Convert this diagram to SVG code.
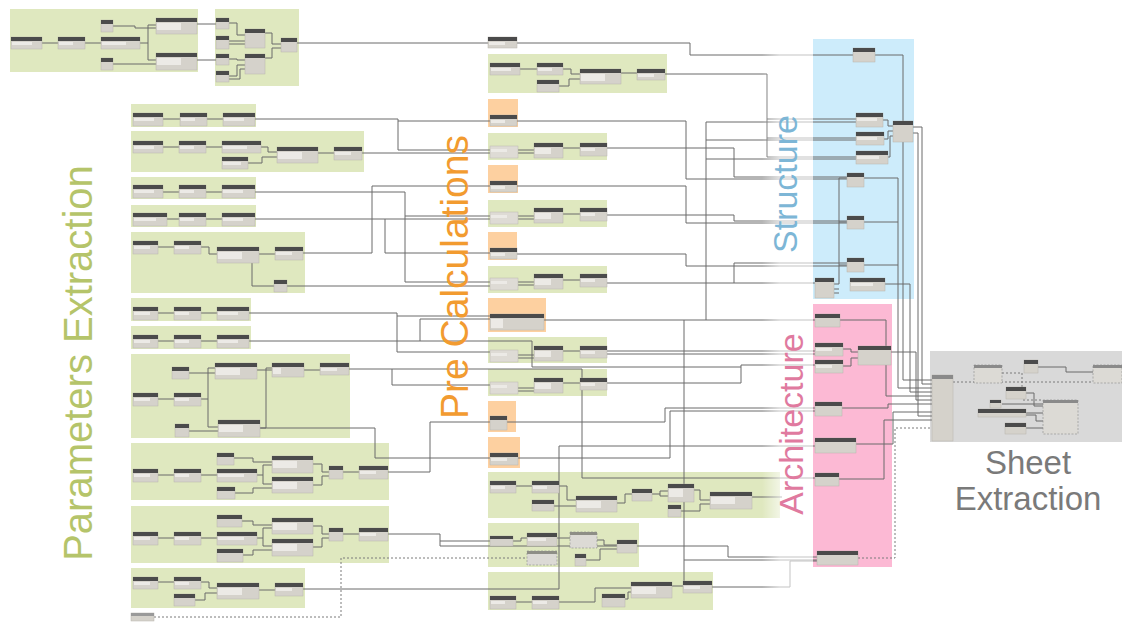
<svg xmlns="http://www.w3.org/2000/svg" width="1122" height="622" viewBox="0 0 1122 622">
<style>
.gr{fill:#dfe8bf}
.or{fill:#fdd0a0}
.b{fill:#d5d2cb;stroke:#b9b5ad;stroke-width:.5}
.bl{fill:#dedbd5;stroke:#bdb9b1;stroke-width:.5}
.h{fill:#4b4b4b}
.f{fill:#eceae6}
.dn{fill:#dcdad5;stroke:#8a8a8a;stroke-width:.6;stroke-dasharray:2 1.5}
.c{fill:none;stroke:#6b6b6b;stroke-width:1}
.cd{fill:none;stroke:#7a7a7a;stroke-width:1;stroke-dasharray:2 2}
.lbl{font-family:"Liberation Sans",Arial,sans-serif;text-anchor:middle}
</style>
<defs>
<linearGradient id="fade" x1="0" x2="1" y1="0" y2="0">
<stop offset="0" stop-color="#fff" stop-opacity="0"/>
<stop offset="0.35" stop-color="#fff" stop-opacity="0.6"/>
<stop offset="1" stop-color="#fff" stop-opacity="0.6"/>
</linearGradient>
</defs>
<rect width="1122" height="622" fill="#fff"/>

<g id="regions">
<rect id="structure-bg" x="813" y="39" width="101" height="260" fill="#cdecfb"/>
<rect id="architecture-bg" x="813" y="304" width="79" height="263" fill="#fcb9d4"/>
<rect id="sheet-bg" x="930" y="351" width="192" height="91" fill="#d9d9d9"/>
<rect class="gr" x="10" y="9" width="188" height="63"/>
<rect class="gr" x="215" y="9" width="84" height="77"/>
<rect class="gr" x="131" y="104" width="125" height="23"/>
<rect class="gr" x="131" y="131" width="233" height="41"/>
<rect class="gr" x="131" y="177" width="125" height="22"/>
<rect class="gr" x="131" y="205" width="125" height="22"/>
<rect class="gr" x="131" y="232" width="174" height="61"/>
<rect class="gr" x="131" y="298" width="120" height="23"/>
<rect class="gr" x="131" y="326" width="120" height="23"/>
<rect class="gr" x="131" y="354" width="219" height="84"/>
<rect class="gr" x="131" y="443" width="258" height="57"/>
<rect class="gr" x="131" y="506" width="258" height="57"/>
<rect class="gr" x="131" y="568" width="174" height="40"/>
<rect class="gr" x="488" y="54" width="179" height="39"/>
<rect class="or" x="488" y="99" width="30" height="28"/>
<rect class="gr" x="488" y="133" width="119" height="27"/>
<rect class="or" x="488" y="165" width="30" height="28"/>
<rect class="gr" x="488" y="200" width="119" height="27"/>
<rect class="or" x="488" y="232" width="29" height="28"/>
<rect class="gr" x="488" y="266" width="119" height="27"/>
<rect class="or" x="488" y="298" width="58" height="34"/>
<rect class="gr" x="488" y="337" width="119" height="26"/>
<rect class="gr" x="488" y="369" width="119" height="27"/>
<rect class="or" x="488" y="401" width="28" height="31"/>
<rect class="or" x="488" y="437" width="32" height="31"/>
<rect class="gr" x="488" y="472" width="292" height="46"/>
<rect class="gr" x="488" y="523" width="151" height="44"/>
<rect class="gr" x="488" y="572" width="225" height="38"/>
</g>

<g id="connectors">
<path class="c" d="M42 43H58M85 43H101M113 26H135V28H156M140 43H148V25H156M148 43V60H156M113 64H156M197 24H216M197 60H216"/>
<path class="c" d="M229 23H237V35H245M229 41H245M229 44H245M229 59H237V60H245M229 76H237V65H245M229 79H240V69H245M265 33H272V44H281M265 58H272V48H281M297 43H488"/>
<path class="c" d="M163 119H180M207 119H223M163 147H179M206 147H222M261 147H268V152H277M248 163H262V157H277M318 153H334"/>
<path class="c" d="M163 192H179M206 192H222M167 219H179M206 219H222M158 247H174M201 247H209V254H217M252 262V286H274M259 254H275"/>
<path class="c" d="M158 313H174M201 313H217M158 341H174M201 341H217M189 373H215M158 399H174M201 399H208V368H215M208 399V427H218M189 431H218M257 370H272M304 370H320M260 428H266V368H272"/>
<path class="c" d="M158 475H174M201 475H217M234 458H253V462H272M257 475H263V465H272M263 475V484H272M235 493H253V488H272M313 464H322V472H329M313 485H322V476H329M343 472H359"/>
<path class="c" d="M158 538H174M201 538H217M242 521H253V525H272M257 538H263V528H272M263 538V546H272M243 555H253V550H272M313 526H322V534H329M313 547H322V538H329M343 534H359"/>
<path class="c" d="M158 582H174M201 582H209V588H217M195 600H205V593H217M259 590H275"/>
<path class="c" d="M255 119H398V121H490M398 121V150H490M362 153H490M303 253H372V186H490M255 192H405V216H490M405 216V282H490M255 219H490M385 219V253H490M287 286H490"/>
<path class="c" d="M249 313H397V316H490M397 316V352H490M249 341H420V319H490M420 341H532V367H741M348 369H582V478H815M392 369V385H490M260 428H375V458H490M387 472H430V422H490M387 534H440V541H490M440 541V546H728V557H817M303 589H559V446H815"/>
<path class="cd" d="M154 617H341V558H527"/>
<path class="c" d="M520 69H537M563 69H571V74H580M559 86H569V79H580M621 73H637"/>
<path class="c" d="M518 150H534M518 153H534M563 148H580M518 216H534M518 219H534M563 214H580M518 282H534M518 285H534M563 280H580M518 355H534M518 358H534M563 351H580M518 388H534M518 391H534M563 383H580"/>
<path class="c" d="M516 486H532M559 486H567V500H576M554 506H576M617 503H625V494H632M652 494H660V491H668M660 494V496H668M694 490H700V500H710M681 511H700V504H710M752 497H782"/>
<path class="c" d="M513 541H521V538H527M557 538H570M597 540H604V545H617M586 560H600V549H617M516 602H532M559 602H595V588H631M625 599H628V592H631M672 586H683M712 587H790V561H817"/>
<path class="c" d="M517 43H690V55H853M665 74H767V157H856M767 119H856M767 138H856M517 121H686V179H847M607 148H734V177H847M517 186H686V223H847M607 215H734V221H847M517 254H686V266H847M607 283H734V263H847M734 283H815"/>
<path class="c" d="M544 320H815M706 320V122H856M706 140H856M706 159H856M684 320V581M684 560H817M607 351H815M607 354H815M607 383H741V365H815M507 422H665V408H815M518 458H670V411H815"/>
<path class="c" d="M883 120H888V126H893M884 139H888V131H893M888 157H890V136H893M834 284H839V178H847M839 222H847M839 265H847M834 289H839M834 293H839"/>
<path class="c" d="M875 55H903V380H932M913 127H922V384H932M864 178H898V388H932M864 222H898M864 265H898M885 284H910V392H932M913 133H918V416H932"/>
<path class="c" d="M843 349H851V352H858M843 366H851V358H858M840 320H886V396H932M891 352H916V400H932M842 408H888V404H932M856 444H893V412H932M839 479H884V420H932"/>
<path class="cd" d="M858 558H895V428H932M953 382H1093M1002 373H1022V400H1043"/>
<path class="c" d="M1038 367H1066V372H1093M1026 393H1034V406H1043M1002 404H1043M1026 413H1043M1026 415H1036V421H1043M1026 428H1043"/>
</g>

<g id="nodes">
<g id="tl1a" transform="translate(11,37)"><rect class="b" width="31" height="12"/><rect class="h" width="31" height="4"/><rect class="f" x="1" y="5" width="20" height="3"/></g>
<g id="tl1b" transform="translate(58,37)"><rect class="b" width="27" height="12"/><rect class="h" width="27" height="4"/><rect class="f" x="1" y="5" width="14" height="3"/></g>
<g id="tl1c" transform="translate(101,37)"><rect class="b" width="39" height="12"/><rect class="h" width="39" height="4"/><rect class="f" x="1" y="5" width="24" height="3"/></g>
<g id="tl1d" transform="translate(101,20)"><rect class="b" width="12" height="12"/><rect class="h" width="12" height="4"/></g>
<g id="tl1e" transform="translate(101,58)"><rect class="b" width="12" height="12"/><rect class="h" width="12" height="4"/></g>
<g id="tl1f" transform="translate(156,18)"><rect class="b" width="41" height="16"/><rect class="h" width="41" height="4"/><rect class="f" x="1" y="5" width="24" height="7"/></g>
<g id="tl1g" transform="translate(156,53)"><rect class="b" width="41" height="17"/><rect class="h" width="41" height="4"/><rect class="f" x="1" y="5" width="24" height="7"/></g>
<g id="tl2a" transform="translate(216,18)"><rect class="b" width="13" height="11"/><rect class="h" width="13" height="4"/></g>
<g id="tl2b" transform="translate(216,36)"><rect class="b" width="13" height="13"/><rect class="h" width="13" height="4"/></g>
<g id="tl2c" transform="translate(216,54)"><rect class="b" width="13" height="11"/><rect class="h" width="13" height="4"/></g>
<g id="tl2d" transform="translate(216,71)"><rect class="b" width="13" height="11"/><rect class="h" width="13" height="4"/></g>
<g id="tl2e" transform="translate(245,29)"><rect class="b" width="20" height="19"/><rect class="h" width="20" height="4"/></g>
<g id="tl2f" transform="translate(245,54)"><rect class="b" width="20" height="20"/><rect class="h" width="20" height="4"/></g>
<g id="tl2g" transform="translate(281,38)"><rect class="b" width="16" height="14"/><rect class="h" width="16" height="4"/></g>

<g id="p1a" transform="translate(133,113)"><rect class="b" width="30" height="13"/><rect class="h" width="30" height="4"/><rect class="f" x="1" y="5" width="20" height="3"/></g>
<g id="p1b" transform="translate(180,113)"><rect class="b" width="27" height="13"/><rect class="h" width="27" height="4"/><rect class="f" x="1" y="5" width="14" height="3"/></g>
<g id="p1c" transform="translate(223,113)"><rect class="b" width="32" height="13"/><rect class="h" width="32" height="4"/><rect class="f" x="1" y="5" width="20" height="3"/></g>
<g id="p2a" transform="translate(133,141)"><rect class="b" width="30" height="12"/><rect class="h" width="30" height="4"/><rect class="f" x="1" y="5" width="20" height="3"/></g>
<g id="p2b" transform="translate(179,141)"><rect class="b" width="27" height="12"/><rect class="h" width="27" height="4"/><rect class="f" x="1" y="5" width="14" height="3"/></g>
<g id="p2c" transform="translate(222,141)"><rect class="b" width="39" height="12"/><rect class="h" width="39" height="4"/><rect class="f" x="1" y="5" width="24" height="3"/></g>
<g id="p2d" transform="translate(222,157)"><rect class="b" width="26" height="12"/><rect class="h" width="26" height="4"/><rect class="f" x="1" y="5" width="18" height="3"/></g>
<g id="p2e" transform="translate(277,147)"><rect class="b" width="41" height="16"/><rect class="h" width="41" height="4"/><rect class="f" x="1" y="5" width="24" height="7"/></g>
<g id="p2f" transform="translate(334,147)"><rect class="b" width="28" height="13"/><rect class="h" width="28" height="4"/><rect class="f" x="1" y="5" width="16" height="3"/></g>
<g id="p3a" transform="translate(133,185)"><rect class="b" width="30" height="13"/><rect class="h" width="30" height="4"/><rect class="f" x="1" y="5" width="20" height="3"/></g>
<g id="p3b" transform="translate(179,185)"><rect class="b" width="27" height="13"/><rect class="h" width="27" height="4"/><rect class="f" x="1" y="5" width="14" height="3"/></g>
<g id="p3c" transform="translate(222,185)"><rect class="b" width="33" height="13"/><rect class="h" width="33" height="4"/><rect class="f" x="1" y="5" width="20" height="3"/></g>
<g id="p4a" transform="translate(133,213)"><rect class="b" width="34" height="13"/><rect class="h" width="34" height="4"/><rect class="f" x="1" y="5" width="22" height="3"/></g>
<g id="p4b" transform="translate(179,213)"><rect class="b" width="27" height="13"/><rect class="h" width="27" height="4"/><rect class="f" x="1" y="5" width="14" height="3"/></g>
<g id="p4c" transform="translate(222,213)"><rect class="b" width="33" height="13"/><rect class="h" width="33" height="4"/><rect class="f" x="1" y="5" width="20" height="3"/></g>
<g id="p5a" transform="translate(133,241)"><rect class="b" width="25" height="13"/><rect class="h" width="25" height="4"/><rect class="f" x="1" y="5" width="16" height="3"/></g>
<g id="p5b" transform="translate(174,241)"><rect class="b" width="27" height="13"/><rect class="h" width="27" height="4"/><rect class="f" x="1" y="5" width="14" height="3"/></g>
<g id="p5c" transform="translate(217,247)"><rect class="b" width="42" height="16"/><rect class="h" width="42" height="4"/><rect class="f" x="1" y="5" width="24" height="7"/></g>
<g id="p5d" transform="translate(275,247)"><rect class="b" width="28" height="13"/><rect class="h" width="28" height="4"/><rect class="f" x="1" y="5" width="16" height="3"/></g>
<g id="p5e" transform="translate(274,280)"><rect class="b" width="13" height="12"/><rect class="h" width="13" height="4"/></g>
<g id="p6a" transform="translate(133,307)"><rect class="b" width="25" height="13"/><rect class="h" width="25" height="4"/><rect class="f" x="1" y="5" width="16" height="3"/></g>
<g id="p6b" transform="translate(174,307)"><rect class="b" width="27" height="13"/><rect class="h" width="27" height="4"/><rect class="f" x="1" y="5" width="14" height="3"/></g>
<g id="p6c" transform="translate(217,307)"><rect class="b" width="32" height="13"/><rect class="h" width="32" height="4"/><rect class="f" x="1" y="5" width="20" height="3"/></g>
<g id="p7a" transform="translate(133,335)"><rect class="b" width="25" height="13"/><rect class="h" width="25" height="4"/><rect class="f" x="1" y="5" width="16" height="3"/></g>
<g id="p7b" transform="translate(174,335)"><rect class="b" width="27" height="13"/><rect class="h" width="27" height="4"/><rect class="f" x="1" y="5" width="14" height="3"/></g>
<g id="p7c" transform="translate(217,335)"><rect class="b" width="32" height="13"/><rect class="h" width="32" height="4"/><rect class="f" x="1" y="5" width="20" height="3"/></g>
<g id="p8a" transform="translate(172,367)"><rect class="b" width="17" height="12"/><rect class="h" width="17" height="4"/></g>
<g id="p8b" transform="translate(133,393)"><rect class="b" width="25" height="13"/><rect class="h" width="25" height="4"/><rect class="f" x="1" y="5" width="16" height="3"/></g>
<g id="p8c" transform="translate(174,393)"><rect class="b" width="27" height="13"/><rect class="h" width="27" height="4"/><rect class="f" x="1" y="5" width="14" height="3"/></g>
<g id="p8d" transform="translate(215,363)"><rect class="b" width="42" height="16"/><rect class="h" width="42" height="4"/><rect class="f" x="1" y="5" width="24" height="7"/></g>
<g id="p8e" transform="translate(272,363)"><rect class="b" width="32" height="14"/><rect class="h" width="32" height="4"/><rect class="f" x="1" y="5" width="8" height="6"/></g>
<g id="p8f" transform="translate(320,363)"><rect class="b" width="29" height="12"/><rect class="h" width="29" height="4"/><rect class="f" x="1" y="5" width="16" height="3"/></g>
<g id="p8g" transform="translate(218,420)"><rect class="b" width="42" height="17"/><rect class="h" width="42" height="4"/><rect class="f" x="1" y="5" width="24" height="7"/></g>
<g id="p8h" transform="translate(175,424)"><rect class="b" width="14" height="13"/><rect class="h" width="14" height="4"/></g>
<g id="p9a" transform="translate(133,469)"><rect class="b" width="25" height="13"/><rect class="h" width="25" height="4"/><rect class="f" x="1" y="5" width="16" height="3"/></g>
<g id="p9b" transform="translate(174,469)"><rect class="b" width="27" height="13"/><rect class="h" width="27" height="4"/><rect class="f" x="1" y="5" width="14" height="3"/></g>
<g id="p9c" transform="translate(217,469)"><rect class="b" width="40" height="13"/><rect class="h" width="40" height="4"/><rect class="f" x="1" y="5" width="26" height="3"/></g>
<g id="p9d" transform="translate(217,453)"><rect class="b" width="17" height="12"/><rect class="h" width="17" height="4"/></g>
<g id="p9e" transform="translate(217,487)"><rect class="b" width="18" height="12"/><rect class="h" width="18" height="4"/></g>
<g id="p9f" transform="translate(272,456)"><rect class="b" width="41" height="17"/><rect class="h" width="41" height="4"/><rect class="f" x="1" y="5" width="24" height="7"/></g>
<g id="p9g" transform="translate(272,477)"><rect class="b" width="41" height="16"/><rect class="h" width="41" height="4"/><rect class="f" x="1" y="5" width="24" height="7"/></g>
<g id="p9h" transform="translate(329,466)"><rect class="b" width="14" height="13"/><rect class="h" width="14" height="4"/></g>
<g id="p9i" transform="translate(359,466)"><rect class="b" width="29" height="13"/><rect class="h" width="29" height="4"/><rect class="f" x="1" y="5" width="16" height="3"/></g>
<g id="p10a" transform="translate(133,532)"><rect class="b" width="25" height="13"/><rect class="h" width="25" height="4"/><rect class="f" x="1" y="5" width="16" height="3"/></g>
<g id="p10b" transform="translate(174,532)"><rect class="b" width="27" height="13"/><rect class="h" width="27" height="4"/><rect class="f" x="1" y="5" width="14" height="3"/></g>
<g id="p10c" transform="translate(217,532)"><rect class="b" width="40" height="13"/><rect class="h" width="40" height="4"/><rect class="f" x="1" y="5" width="26" height="3"/></g>
<g id="p10d" transform="translate(217,515)"><rect class="b" width="25" height="12"/><rect class="h" width="25" height="4"/></g>
<g id="p10e" transform="translate(217,549)"><rect class="b" width="26" height="13"/><rect class="h" width="26" height="4"/></g>
<g id="p10f" transform="translate(272,518)"><rect class="b" width="41" height="16"/><rect class="h" width="41" height="4"/><rect class="f" x="1" y="5" width="24" height="7"/></g>
<g id="p10g" transform="translate(272,539)"><rect class="b" width="41" height="17"/><rect class="h" width="41" height="4"/><rect class="f" x="1" y="5" width="24" height="7"/></g>
<g id="p10h" transform="translate(329,528)"><rect class="b" width="14" height="13"/><rect class="h" width="14" height="4"/></g>
<g id="p10i" transform="translate(359,528)"><rect class="b" width="29" height="13"/><rect class="h" width="29" height="4"/><rect class="f" x="1" y="5" width="16" height="3"/></g>
<g id="p11a" transform="translate(133,577)"><rect class="b" width="25" height="12"/><rect class="h" width="25" height="4"/><rect class="f" x="1" y="5" width="16" height="3"/></g>
<g id="p11b" transform="translate(174,577)"><rect class="b" width="27" height="12"/><rect class="h" width="27" height="4"/><rect class="f" x="1" y="5" width="14" height="3"/></g>
<g id="p11c" transform="translate(174,594)"><rect class="b" width="21" height="12"/><rect class="h" width="21" height="4"/></g>
<g id="p11d" transform="translate(217,583)"><rect class="b" width="42" height="16"/><rect class="h" width="42" height="4"/><rect class="f" x="1" y="5" width="24" height="7"/></g>
<g id="p11e" transform="translate(275,583)"><rect class="b" width="28" height="13"/><rect class="h" width="28" height="4"/><rect class="f" x="1" y="5" width="16" height="3"/></g>
<g id="p12" transform="translate(131,613)"><rect class="b" width="23" height="8"/><rect fill="#9a9a9a" width="23" height="3"/></g>

<g id="m0" transform="translate(488,37)"><rect class="b" width="29" height="11"/><rect class="h" width="29" height="4"/><rect class="f" x="1" y="5" width="16" height="3"/></g>
<g id="m1a" transform="translate(490,63)"><rect class="b" width="30" height="12"/><rect class="h" width="30" height="4"/><rect class="f" x="1" y="5" width="20" height="3"/></g>
<g id="m1b" transform="translate(537,63)"><rect class="b" width="26" height="12"/><rect class="h" width="26" height="4"/><rect class="f" x="1" y="5" width="14" height="3"/></g>
<g id="m1c" transform="translate(537,80)"><rect class="b" width="22" height="12"/><rect class="h" width="22" height="4"/></g>
<g id="m1d" transform="translate(580,69)"><rect class="b" width="41" height="15"/><rect class="h" width="41" height="4"/><rect class="f" x="1" y="5" width="24" height="7"/></g>
<g id="m1e" transform="translate(637,69)"><rect class="b" width="28" height="11"/><rect class="h" width="28" height="4"/><rect class="f" x="1" y="5" width="16" height="3"/></g>
<g id="m2" transform="translate(490,115)"><rect class="b" width="27" height="11"/><rect class="h" width="27" height="4"/><rect class="f" x="1" y="5" width="14" height="3"/></g>
<g id="m3a" transform="translate(490,146)"><rect class="bl" width="28" height="12"/><rect class="f" x="1" y="3" width="16" height="3"/></g>
<g id="m3b" transform="translate(534,143)"><rect class="b" width="29" height="15"/><rect class="h" width="29" height="4"/><rect class="f" x="1" y="5" width="16" height="6"/></g>
<g id="m3c" transform="translate(580,143)"><rect class="b" width="27" height="13"/><rect class="h" width="27" height="4"/><rect class="f" x="1" y="5" width="14" height="3"/></g>
<g id="m4" transform="translate(490,181)"><rect class="b" width="27" height="11"/><rect class="h" width="27" height="4"/><rect class="f" x="1" y="5" width="14" height="3"/></g>
<g id="m5a" transform="translate(490,212)"><rect class="bl" width="28" height="12"/><rect class="f" x="1" y="3" width="16" height="3"/></g>
<g id="m5b" transform="translate(534,208)"><rect class="b" width="29" height="15"/><rect class="h" width="29" height="4"/><rect class="f" x="1" y="5" width="16" height="6"/></g>
<g id="m5c" transform="translate(580,208)"><rect class="b" width="27" height="13"/><rect class="h" width="27" height="4"/><rect class="f" x="1" y="5" width="14" height="3"/></g>
<g id="m6" transform="translate(490,248)"><rect class="b" width="27" height="11"/><rect class="h" width="27" height="4"/><rect class="f" x="1" y="5" width="14" height="3"/></g>
<g id="m7a" transform="translate(490,278)"><rect class="bl" width="28" height="12"/><rect class="f" x="1" y="3" width="16" height="3"/></g>
<g id="m7b" transform="translate(534,274)"><rect class="b" width="29" height="15"/><rect class="h" width="29" height="4"/><rect class="f" x="1" y="5" width="16" height="6"/></g>
<g id="m7c" transform="translate(580,274)"><rect class="b" width="27" height="13"/><rect class="h" width="27" height="4"/><rect class="f" x="1" y="5" width="14" height="3"/></g>
<g id="m8" transform="translate(490,314)"><rect class="b" width="54" height="16"/><rect class="h" width="54" height="4"/><rect class="f" x="1" y="5" width="12" height="9"/></g>
<g id="m9a" transform="translate(490,350)"><rect class="bl" width="28" height="12"/><rect class="f" x="1" y="3" width="16" height="3"/></g>
<g id="m9b" transform="translate(534,346)"><rect class="b" width="29" height="15"/><rect class="h" width="29" height="4"/><rect class="f" x="1" y="5" width="16" height="6"/></g>
<g id="m9c" transform="translate(580,346)"><rect class="b" width="27" height="12"/><rect class="h" width="27" height="4"/><rect class="f" x="1" y="5" width="14" height="3"/></g>
<g id="m10a" transform="translate(490,382)"><rect class="bl" width="28" height="12"/><rect class="f" x="1" y="3" width="16" height="3"/></g>
<g id="m10b" transform="translate(534,378)"><rect class="b" width="29" height="15"/><rect class="h" width="29" height="4"/><rect class="f" x="1" y="5" width="16" height="6"/></g>
<g id="m10c" transform="translate(580,378)"><rect class="b" width="27" height="12"/><rect class="h" width="27" height="4"/><rect class="f" x="1" y="5" width="14" height="3"/></g>
<g id="m11" transform="translate(490,416)"><rect class="b" width="17" height="14"/><rect class="h" width="17" height="4"/></g>
<g id="m12" transform="translate(490,453)"><rect class="b" width="28" height="12"/><rect class="h" width="28" height="4"/><rect class="f" x="1" y="5" width="16" height="3"/></g>
<g id="m13a" transform="translate(490,481)"><rect class="b" width="26" height="12"/><rect class="h" width="26" height="4"/><rect class="f" x="1" y="5" width="14" height="3"/></g>
<g id="m13b" transform="translate(532,481)"><rect class="b" width="27" height="12"/><rect class="h" width="27" height="4"/><rect class="f" x="1" y="5" width="14" height="3"/></g>
<g id="m13c" transform="translate(532,500)"><rect class="b" width="22" height="11"/><rect class="h" width="22" height="4"/></g>
<g id="m13d" transform="translate(576,496)"><rect class="b" width="41" height="16"/><rect class="h" width="41" height="4"/><rect class="f" x="1" y="5" width="24" height="7"/></g>
<g id="m13e" transform="translate(632,489)"><rect class="b" width="20" height="12"/><rect class="h" width="20" height="4"/></g>
<g id="m13f" transform="translate(668,484)"><rect class="b" width="26" height="18"/><rect class="h" width="26" height="4"/><rect class="f" x="1" y="5" width="14" height="8"/></g>
<g id="m13g" transform="translate(668,505)"><rect class="b" width="13" height="12"/><rect class="h" width="13" height="4"/></g>
<g id="m13h" transform="translate(710,492)"><rect class="b" width="42" height="17"/><rect class="h" width="42" height="4"/><rect class="f" x="1" y="5" width="24" height="7"/></g>
<g id="m14a" transform="translate(490,536)"><rect class="b" width="23" height="10"/><rect class="h" width="23" height="3"/></g>
<g id="m14b" transform="translate(527,533)"><rect class="b" width="30" height="13"/><rect class="h" width="30" height="4"/><rect class="f" x="1" y="5" width="18" height="3"/></g>
<g id="m14c" transform="translate(570,532)"><rect class="dn" width="27" height="16"/><rect fill="#8e8e86" width="27" height="3"/></g>
<g id="m14d" transform="translate(527,551)"><rect class="dn" width="30" height="14"/><rect fill="#8e8e86" width="30" height="3"/></g>
<g id="m14e" transform="translate(575,554)"><rect class="b" width="11" height="12"/><rect class="h" width="11" height="4"/></g>
<g id="m14f" transform="translate(617,540)"><rect class="b" width="20" height="13"/><rect class="h" width="20" height="4"/></g>
<g id="m15a" transform="translate(490,596)"><rect class="b" width="26" height="13"/><rect class="h" width="26" height="4"/><rect class="f" x="1" y="5" width="14" height="3"/></g>
<g id="m15b" transform="translate(532,596)"><rect class="b" width="27" height="13"/><rect class="h" width="27" height="4"/><rect class="f" x="1" y="5" width="14" height="3"/></g>
<g id="m15c" transform="translate(602,594)"><rect class="b" width="23" height="13"/><rect class="h" width="23" height="4"/></g>
<g id="m15d" transform="translate(631,582)"><rect class="b" width="41" height="16"/><rect class="h" width="41" height="4"/><rect class="f" x="1" y="5" width="24" height="7"/></g>
<g id="m15e" transform="translate(683,581)"><rect class="b" width="29" height="12"/><rect class="h" width="29" height="4"/><rect class="f" x="1" y="5" width="16" height="3"/></g>

<g id="s1" transform="translate(853,48)"><rect class="b" width="22" height="14"/><rect class="h" width="22" height="4"/></g>
<g id="s2" transform="translate(856,113)"><rect class="b" width="27" height="14"/><rect class="h" width="27" height="4"/><rect class="f" x="1" y="5" width="20" height="3"/></g>
<g id="s3" transform="translate(856,132)"><rect class="b" width="28" height="13"/><rect class="h" width="28" height="4"/><rect class="f" x="1" y="5" width="20" height="3"/></g>
<g id="s4" transform="translate(856,151)"><rect class="b" width="32" height="13"/><rect class="h" width="32" height="4"/><rect class="f" x="1" y="5" width="22" height="3"/></g>
<g id="s5" transform="translate(893,121)"><rect class="b" width="20" height="21"/><rect class="h" width="20" height="4"/></g>
<g id="s6" transform="translate(847,173)"><rect class="b" width="17" height="14"/><rect class="h" width="17" height="4"/></g>
<g id="s7" transform="translate(847,216)"><rect class="b" width="17" height="13"/><rect class="h" width="17" height="4"/></g>
<g id="s8" transform="translate(847,258)"><rect class="b" width="17" height="14"/><rect class="h" width="17" height="4"/></g>
<g id="s9" transform="translate(815,278)"><rect class="b" width="19" height="20"/><rect class="h" width="19" height="4"/></g>
<g id="s10" transform="translate(850,278)"><rect class="b" width="35" height="13"/><rect class="h" width="35" height="4"/><rect class="f" x="1" y="5" width="22" height="3"/></g>

<g id="a1" transform="translate(815,314)"><rect class="b" width="25" height="13"/><rect class="h" width="25" height="4"/></g>
<g id="a2" transform="translate(815,343)"><rect class="b" width="28" height="13"/><rect class="h" width="28" height="4"/><rect class="f" x="1" y="5" width="16" height="3"/></g>
<g id="a3" transform="translate(815,360)"><rect class="b" width="28" height="13"/><rect class="h" width="28" height="4"/><rect class="f" x="1" y="5" width="16" height="3"/></g>
<g id="a4" transform="translate(858,346)"><rect class="b" width="33" height="19"/><rect class="h" width="33" height="4"/></g>
<g id="a5" transform="translate(815,402)"><rect class="b" width="27" height="14"/><rect class="h" width="27" height="4"/></g>
<g id="a6" transform="translate(815,438)"><rect class="b" width="41" height="15"/><rect class="h" width="41" height="4"/></g>
<g id="a7" transform="translate(815,473)"><rect class="b" width="24" height="13"/><rect class="h" width="24" height="4"/></g>
<g id="a8" transform="translate(817,551)"><rect class="b" width="41" height="14"/><rect class="h" width="41" height="4"/></g>

<g id="sh1" transform="translate(932,375)"><rect class="b" width="21" height="66"/><rect fill="#8a8a8a" width="21" height="4"/></g>
<g id="sh2" transform="translate(974,365)"><rect class="dn" width="28" height="18"/><rect fill="#8a8a8a" width="28" height="3"/></g>
<g id="sh3" transform="translate(1024,360)"><rect class="b" width="14" height="13"/><rect class="h" width="14" height="4"/></g>
<g id="sh4" transform="translate(1006,387)"><rect class="b" width="20" height="12"/><rect class="h" width="20" height="4"/></g>
<g id="sh5" transform="translate(990,400)"><rect class="b" width="11" height="8"/><rect class="h" width="11" height="3"/></g>
<g id="sh6" transform="translate(978,409)"><rect class="b" width="48" height="8"/><rect class="h" width="48" height="4"/></g>
<g id="sh7" transform="translate(1005,423)"><rect class="b" width="21" height="11"/><rect class="h" width="21" height="4"/></g>
<g id="sh8" transform="translate(1043,400)"><rect class="dn" width="35" height="34"/><rect fill="#8a8a8a" width="35" height="3"/></g>
<g id="sh9" transform="translate(1093,365)"><rect class="dn" width="29" height="18"/><rect fill="#8a8a8a" width="29" height="3"/></g>
</g>

<rect id="label-fade" x="762" y="38" width="51" height="574" fill="url(#fade)"/>

<g id="labels">
<text class="lbl" x="92" y="363" transform="rotate(-90 92 363)" font-size="40" fill="#b5c46a">Parameters Extraction</text>
<text class="lbl" x="468" y="277" transform="rotate(-90 468 277)" font-size="39" fill="#f29b30">Pre Calculations</text>
<text class="lbl" x="797" y="184" transform="rotate(-90 797 184)" font-size="34" fill="#7db6d6">Structure</text>
<text class="lbl" x="803" y="424" transform="rotate(-90 803 424)" font-size="34" fill="#e07a9f">Architecture</text>
<text class="lbl" x="1028" y="474" font-size="33" fill="#7a7a7a">Sheet</text>
<text class="lbl" x="1028" y="510" font-size="33" fill="#7a7a7a">Extraction</text>
</g>
</svg>
